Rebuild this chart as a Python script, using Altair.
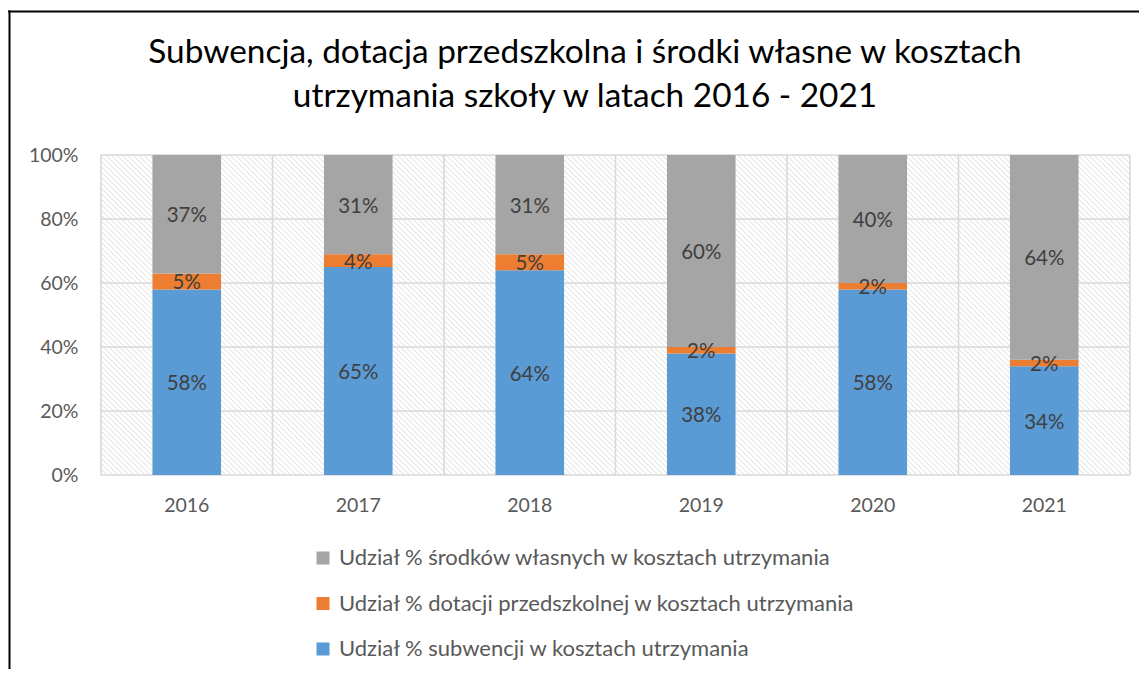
import altair as alt
import pandas as pd

# ---- data ----
years = ["2016", "2017", "2018", "2019", "2020", "2021"]
subwencja = [58, 65, 64, 38, 58, 34]
dotacja = [5, 4, 5, 2, 2, 2]
srodki = [37, 31, 31, 60, 40, 64]
series_names = [
    "Udział % środków własnych w kosztach utrzymania",
    "Udział % dotacji przedszkolnej w kosztach utrzymania",
    "Udział % subwencji w kosztach utrzymania",
]
series_colors = ["#A5A5A5", "#ED7D31", "#5B9BD5"]
y_ticks = [0, 20, 40, 60, 80, 100]
title_lines = [
    "Subwencja, dotacja przedszkolna i środki własne w kosztach",
    "utrzymania szkoły w latach 2016 - 2021",
]

rows = []
for i, yr in enumerate(years):
    for name, vals, order in [
        (series_names[2], subwencja, 0),
        (series_names[1], dotacja, 1),
        (series_names[0], srodki, 2),
    ]:
        rows.append({"year": yr, "series": name, "value": vals[i], "order": order})
df = pd.DataFrame(rows)

W, H = 1029, 320
FONT = "Lato"
LABEL_SIZE = 19.5
GRID = "#d9d9d9"

xscale = alt.Scale(domain=years, paddingInner=0, paddingOuter=0)
yscale = alt.Scale(domain=[0, 100], nice=False)
x_axis = alt.Axis(title=None, grid=False, domain=False, ticks=False, labelAngle=0,
                  labelFontSize=LABEL_SIZE, labelColor="#595959", labelFont=FONT,
                  labelPadding=21)
y_axis = alt.Axis(title=None, grid=False, domain=False, ticks=False, values=y_ticks,
                  labelExpr="datum.value + '%'", labelFontSize=LABEL_SIZE,
                  labelColor="#595959", labelFont=FONT, labelPadding=23)

# hatched plot background (decorative)
hatch = (
    alt.Chart(alt.sequence(0, 260, as_="k"))
    .transform_calculate(hx="datum.k * 5.4 - 330", hx2="datum.k * 5.4 - 330 + 320",
                         hy="0", hy2="320")
    .mark_rule(color="#dcdcdc", strokeWidth=1.0, clip=True)
    .encode(
        x=alt.X("hx:Q", scale=None, axis=None),
        x2="hx2:Q",
        y=alt.Y("hy:Q", scale=None, axis=None),
        y2="hy2:Q",
    )
)

hgrid = (
    alt.Chart(pd.DataFrame({"t": y_ticks}))
    .mark_rule(color=GRID, strokeWidth=1.6)
    .encode(y=alt.Y("t:Q", scale=yscale, axis=y_axis))
)
vgrid = (
    alt.Chart(pd.DataFrame({"year": years}))
    .mark_rule(color=GRID, strokeWidth=1.6)
    .encode(x=alt.X("year:N", scale=xscale, axis=x_axis, bandPosition=0))
)
vgrid_end = (
    alt.Chart(pd.DataFrame({"year": years[-1:]}))
    .mark_rule(color=GRID, strokeWidth=1.6)
    .encode(x=alt.X("year:N", scale=xscale, axis=x_axis, bandPosition=1))
)

stacked = alt.Chart(df).transform_stack(
    stack="value", groupby=["year"], sort=[alt.SortField("order")], as_=["v0", "v1"]
).transform_calculate(mid="(datum.v0 + datum.v1) / 2", lbl="datum.value + '%'")

bars = stacked.mark_bar(width=alt.RelativeBandSize(0.4)).encode(
    x=alt.X("year:N", scale=xscale, axis=x_axis),
    y=alt.Y("v0:Q", scale=yscale, axis=y_axis),
    y2="v1:Q",
    color=alt.Color(
        "series:N",
        scale=alt.Scale(domain=series_names, range=series_colors),
        legend=alt.Legend(
            title=None, orient="none", legendX=211, legendY=392, direction="vertical",
            symbolType="square", symbolSize=169, symbolStrokeWidth=0, symbolOpacity=1,
            labelFontSize=22, labelColor="#595959", labelFont=FONT,
            labelOffset=5, rowPadding=23.5, padding=0, labelLimit=800,
        ),
    ),
)

labels = stacked.mark_text(fontSize=20.5, font=FONT, color="#404040",
                           baseline="middle", dy=2).encode(
    x=alt.X("year:N", scale=xscale, axis=x_axis),
    y=alt.Y("mid:Q", scale=yscale, axis=y_axis),
    text="lbl:N",
)

title = alt.Chart(pd.DataFrame({"a": [0]})).mark_text(
    font=FONT, fontSize=33.4, color="black", align="center", baseline="alphabetic",
    lineHeight=44,
).encode(x=alt.value(484), y=alt.value(-92), text=alt.value(title_lines))

frame_top = alt.Chart(pd.DataFrame({"a": [0]})).mark_rule(color="black", strokeWidth=2).encode(
    x=alt.value(-93), x2=alt.value(W + 9), y=alt.value(-143.5)
)
frame_left = alt.Chart(pd.DataFrame({"a": [0]})).mark_rule(color="black", strokeWidth=2).encode(
    x=alt.value(-91.5), y=alt.value(-144.5), y2=alt.value(H + 194)
)

chart = (
    alt.layer(hatch, hgrid, vgrid, vgrid_end, bars, labels, title, frame_top, frame_left)
    .properties(
        width=W, height=H,
        autosize=alt.AutoSizeParams(type="none"),
        padding={"left": 93, "top": 147, "right": 9, "bottom": 194},
    )
    .configure_view(stroke=None)
)

chart.save("out.html", embed_options={"renderer": "svg", "actions": False})
